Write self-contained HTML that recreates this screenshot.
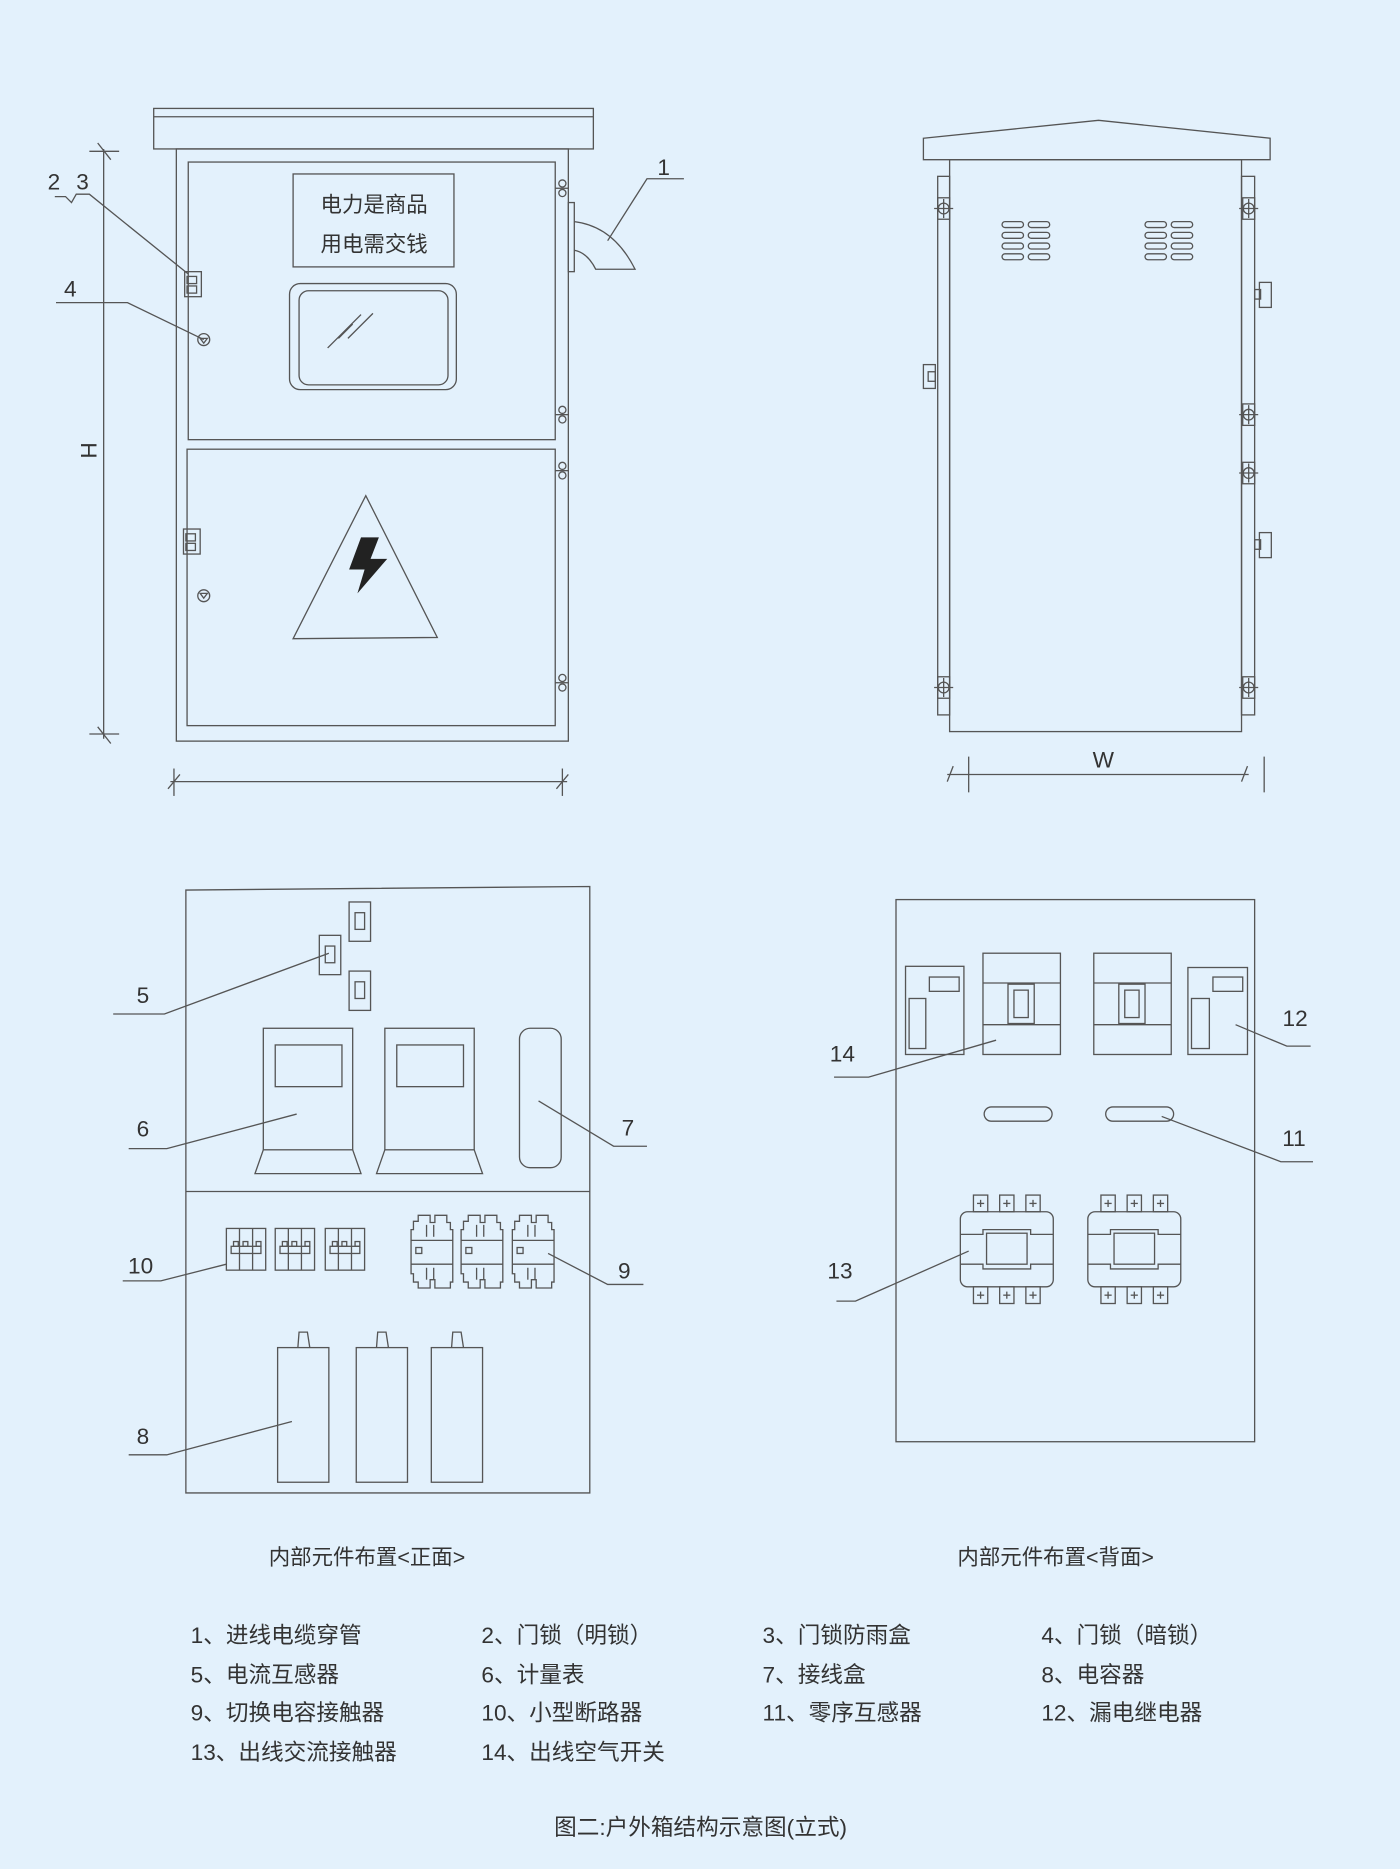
<!DOCTYPE html>
<html><head><meta charset="utf-8"><style>
html,body{margin:0;padding:0;background:#e3f1fc;}
svg{display:block}
text{font-family:"Liberation Sans","Noto Sans CJK SC",sans-serif;fill:#333;}
</style></head><body>
<svg width="1400" height="1869" viewBox="0 0 1175 1568.6" preserveAspectRatio="none" xmlns="http://www.w3.org/2000/svg">
<defs>
<g id="hg" fill="none" stroke="#555" stroke-width="1.1"><line x1="466" y1="0" x2="477" y2="0"/><circle cx="472" cy="-4" r="3"/><circle cx="472" cy="4" r="3"/></g>
<g id="bt" fill="none" stroke="#555" stroke-width="1.1"><circle cx="0" cy="0" r="4.5"/><line x1="-8" y1="0" x2="8" y2="0"/><line x1="0" y1="-8" x2="0" y2="8"/><rect x="-5" y="-9" width="10" height="18"/></g>
<g id="vt" fill="none" stroke="#555" stroke-width="1.1"><rect x="0" y="0" width="18" height="5" rx="2.5"/><rect x="0" y="9" width="18" height="5" rx="2.5"/><rect x="0" y="18" width="18" height="5" rx="2.5"/><rect x="0" y="27" width="18" height="5" rx="2.5"/></g>
<g id="br" fill="none" stroke="#555" stroke-width="1.1"><rect x="0" y="0" width="33" height="35"/><line x1="11" y1="0" x2="11" y2="35"/><line x1="22" y1="0" x2="22" y2="35"/><rect x="4" y="15" width="25" height="6"/><rect x="6" y="11" width="4" height="4"/><rect x="14" y="11" width="4" height="4"/><rect x="25" y="11" width="4" height="4"/></g>
<g id="ct" fill="none" stroke="#555" stroke-width="1.1"><path d="M2 12 L0 12 L0 49 L2 49 L2 56 L6 56 L6 61 L16 61 L16 54 L20 54 L20 61 L33 61 L33 56 L35 56 L35 49 L35 12 L33 12 L33 6 L30 6 L30 0 L20 0 L20 6 L16 6 L16 0 L6 0 L6 5 L2 5 Z"/><line x1="0" y1="21" x2="35" y2="21"/><line x1="0" y1="41" x2="35" y2="41"/><rect x="4" y="27" width="5" height="5"/><line x1="13" y1="8" x2="13" y2="18"/><line x1="19" y1="8" x2="19" y2="18"/><line x1="13" y1="44" x2="13" y2="54"/><line x1="19" y1="44" x2="19" y2="54"/></g>
<g id="cp" fill="none" stroke="#555" stroke-width="1.1"><rect x="0" y="13" width="43" height="113"/><path d="M17 13 L18 0 L25 0 L27 13"/></g>
<g id="tm" fill="none" stroke="#555" stroke-width="1.1"><rect x="11" y="0" width="12" height="14"/><line x1="14" y1="7" x2="20" y2="7"/><line x1="17" y1="4" x2="17" y2="10"/></g>
<g id="kc" fill="none" stroke="#555" stroke-width="1.1"><rect x="0" y="14" width="78" height="63" rx="6"/><path d="M0 33 L19 33 L19 29 L59 29 L59 33 L78 33"/><path d="M0 58 L19 58 L19 62 L59 62 L59 58 L78 58"/><rect x="22" y="32" width="34" height="26"/>
<use href="#tm"/><use href="#tm" x="22"/><use href="#tm" x="44"/><use href="#tm" y="77"/><use href="#tm" x="22" y="77"/><use href="#tm" x="44" y="77"/></g>
</defs>
<rect x="0" y="0" width="1175" height="1569" fill="#e3f1fc"/>
<g fill="none" stroke="#555" stroke-width="1.1">
<rect x="129" y="91" width="369" height="34"/>
<line x1="129" y1="98" x2="498" y2="98"/>
<rect x="148" y="125" width="329" height="497"/>
<rect x="158" y="136" width="308" height="233"/>
<rect x="157" y="377" width="309" height="232"/>
<rect x="246" y="146" width="135" height="78"/>
<rect x="243" y="238" width="140" height="89" rx="9"/>
<rect x="251" y="244" width="125" height="79" rx="8"/>
<line x1="275" y1="292" x2="303" y2="264"/><line x1="284" y1="284" x2="296" y2="272"/><line x1="292" y1="284" x2="313" y2="263"/>
<rect x="155" y="228" width="14" height="21"/><rect x="157" y="232" width="8" height="6"/><rect x="157" y="240" width="8" height="6"/>
<rect x="154" y="444" width="14" height="21"/><rect x="156" y="448" width="8" height="6"/><rect x="156" y="456" width="8" height="6"/>
<circle cx="171" cy="285" r="5"/><path d="M168 284 L174 284 L171 288Z"/>
<circle cx="171" cy="500" r="5"/><path d="M168 498 L174 498 L171 502Z"/>
<use href="#hg" y="158"/><use href="#hg" y="348"/><use href="#hg" y="395"/><use href="#hg" y="573"/>
<rect x="477" y="170" width="5" height="58"/>
<path d="M482 186 Q515 190 533 226 L500 226 Q493 212 482 210"/>
<polyline points="510,202 543,150 574,150"/>
<polyline points="46,165 55,165 60,170 64,163 75,163 158,230"/>
<polyline points="47,254 107,254 171,285"/>
<line x1="87" y1="125" x2="87" y2="620"/>
<line x1="75" y1="127" x2="100" y2="127"/><line x1="75" y1="616" x2="100" y2="616"/>
<line x1="82" y1="120" x2="93" y2="134"/><line x1="82" y1="610" x2="93" y2="624"/>
<line x1="143" y1="656" x2="476" y2="656"/>
<line x1="146" y1="645" x2="146" y2="668"/><line x1="472" y1="645" x2="472" y2="668"/>
<line x1="141" y1="662" x2="151" y2="650"/><line x1="467" y1="662" x2="477" y2="650"/>
<path d="M775 116 L922 101 L1066 116 L1066 134 L775 134 Z"/>
<rect x="797" y="134" width="245" height="480"/>
<rect x="787" y="148" width="10" height="452"/>
<rect x="1042" y="148" width="11" height="452"/>
<use href="#bt" x="792" y="175"/><use href="#bt" x="1048" y="175"/><use href="#bt" x="1048" y="348"/><use href="#bt" x="1048" y="397"/><use href="#bt" x="792" y="577"/><use href="#bt" x="1048" y="577"/>
<use href="#vt" x="841" y="186"/><use href="#vt" x="863" y="186"/><use href="#vt" x="961" y="186"/><use href="#vt" x="983" y="186"/>
<rect x="775" y="306" width="10" height="20"/><rect x="779" y="312" width="6" height="8"/>
<rect x="1057" y="237" width="10" height="21"/><rect x="1053" y="243" width="5" height="8"/>
<rect x="1057" y="447" width="10" height="21"/><rect x="1053" y="453" width="5" height="8"/>
<line x1="795" y1="650" x2="1048" y2="650"/>
<line x1="813" y1="635" x2="813" y2="665"/><line x1="1061" y1="635" x2="1061" y2="665"/>
<line x1="795" y1="656" x2="800" y2="643"/><line x1="1042" y1="656" x2="1047" y2="643"/>
<path d="M156 747 L495 744 L495 1253 L156 1253 Z"/>
<line x1="156" y1="1000" x2="495" y2="1000"/>
<rect x="293" y="757" width="18" height="33"/><rect x="298" y="766" width="8" height="14"/>
<rect x="268" y="785" width="18" height="33"/><rect x="273" y="794" width="8" height="14"/>
<rect x="293" y="815" width="18" height="33"/><rect x="298" y="824" width="8" height="14"/>
<rect x="221" y="863" width="75" height="102"/><rect x="231" y="877" width="56" height="35"/><path d="M221 965 L214 985 L303 985 L296 965"/>
<rect x="323" y="863" width="75" height="102"/><rect x="333" y="877" width="56" height="35"/><path d="M323 965 L316 985 L405 985 L398 965"/>
<rect x="436" y="863" width="35" height="117" rx="9"/>
<use href="#br" x="190" y="1031"/><use href="#br" x="231" y="1031"/><use href="#br" x="273" y="1031"/>
<use href="#ct" x="345" y="1020"/><use href="#ct" x="387" y="1020"/><use href="#ct" x="430" y="1020"/>
<use href="#cp" x="233" y="1118"/><use href="#cp" x="299" y="1118"/><use href="#cp" x="362" y="1118"/>
<polyline points="95,851 138,851 276,800"/>
<polyline points="108,964 140,964 249,935"/>
<polyline points="452,924 515,962 543,962"/>
<polyline points="103,1075 135,1075 190,1061"/>
<polyline points="460,1052 510,1078 540,1078"/>
<polyline points="108,1221 140,1221 245,1193"/>
<rect x="752" y="755" width="301" height="455"/>
<rect x="760" y="811" width="49" height="74"/><rect x="780" y="820" width="25" height="12"/><rect x="763" y="838" width="14" height="42"/>
<rect x="997" y="812" width="50" height="73"/><rect x="1018" y="820" width="25" height="12"/><rect x="1000" y="838" width="15" height="42"/>
<rect x="825" y="800" width="65" height="85"/><line x1="825" y1="825" x2="890" y2="825"/><line x1="825" y1="860" x2="890" y2="860"/><rect x="846" y="826" width="22" height="33"/><rect x="851" y="831" width="12" height="23"/>
<rect x="918" y="800" width="65" height="85"/><line x1="918" y1="825" x2="983" y2="825"/><line x1="918" y1="860" x2="983" y2="860"/><rect x="939" y="826" width="22" height="33"/><rect x="944" y="831" width="12" height="23"/>
<rect x="826" y="929" width="57" height="12" rx="6"/><rect x="928" y="929" width="57" height="12" rx="6"/>
<use href="#kc" x="806" y="1003"/><use href="#kc" x="913" y="1003"/>
<polyline points="700,904 729,904 836,873"/>
<polyline points="1037,860 1080,878 1100,878"/>
<polyline points="975,937 1075,975 1102,975"/>
<polyline points="702,1092 718,1092 813,1050"/>
</g>
<path d="M303 451 L293 478 L306 478 L300 498 L325 469 L311 469 L318 451 Z" fill="#222"/>
<path d="M307 416 L367 535 L246 536 Z" fill="none" stroke="#555" stroke-width="1.1"/>
<g font-size="18">
<text x="314" y="178" text-anchor="middle">电力是商品</text>
<text x="314" y="211" text-anchor="middle">用电需交钱</text>
</g>
<g font-size="19">
<text x="557" y="147" text-anchor="middle">1</text>
<text x="40" y="159">2</text><text x="64" y="159">3</text>
<text x="59" y="249" text-anchor="middle">4</text>
<text x="0" y="0" transform="translate(68,378) rotate(90)" text-anchor="middle">H</text>
<text x="926" y="644" text-anchor="middle">W</text>
<text x="120" y="842" text-anchor="middle">5</text>
<text x="120" y="954" text-anchor="middle">6</text>
<text x="527" y="953" text-anchor="middle">7</text>
<text x="118" y="1069" text-anchor="middle">10</text>
<text x="524" y="1073" text-anchor="middle">9</text>
<text x="120" y="1212" text-anchor="middle">8</text>
<text x="707" y="891" text-anchor="middle">14</text>
<text x="1087" y="861" text-anchor="middle">12</text>
<text x="1086" y="962" text-anchor="middle">11</text>
<text x="705" y="1073" text-anchor="middle">13</text>
</g>
<g font-size="18">
<text x="308" y="1313" text-anchor="middle">内部元件布置&lt;正面&gt;</text>
<text x="886" y="1313" text-anchor="middle">内部元件布置&lt;背面&gt;</text>
</g>
<g font-size="19">
<text x="160" y="1379">1、进线电缆穿管</text><text x="404" y="1379">2、门锁（明锁）</text><text x="640" y="1379">3、门锁防雨盒</text><text x="874" y="1379">4、门锁（暗锁）</text>
<text x="160" y="1412">5、电流互感器</text><text x="404" y="1412">6、计量表</text><text x="640" y="1412">7、接线盒</text><text x="874" y="1412">8、电容器</text>
<text x="160" y="1444">9、切换电容接触器</text><text x="404" y="1444">10、小型断路器</text><text x="640" y="1444">11、零序互感器</text><text x="874" y="1444">12、漏电继电器</text>
<text x="160" y="1477">13、出线交流接触器</text><text x="404" y="1477">14、出线空气开关</text>
<text x="588" y="1540" text-anchor="middle">图二:户外箱结构示意图(立式)</text>
</g>
</svg>
</body></html>
